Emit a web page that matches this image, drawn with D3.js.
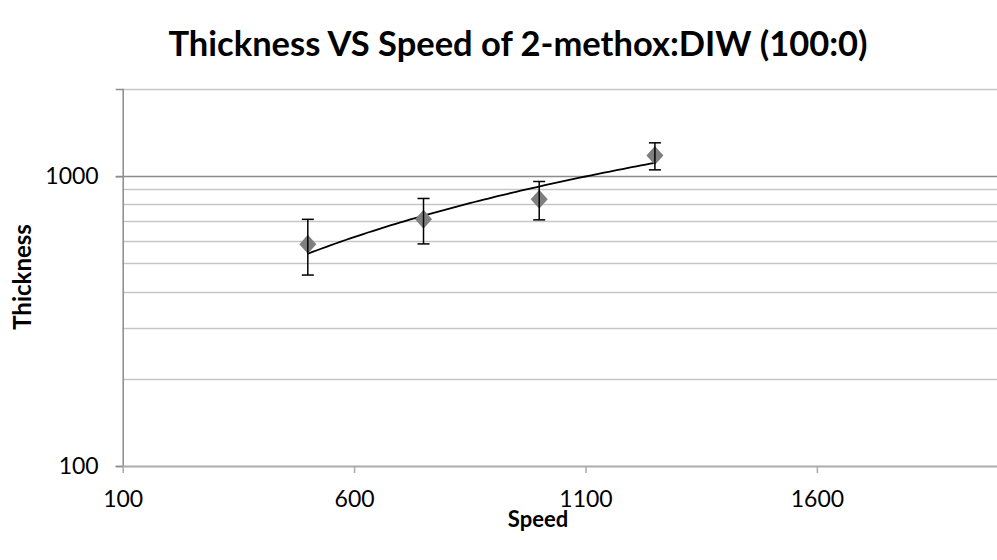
<!DOCTYPE html>
<html>
<head>
<meta charset="utf-8">
<script src="https://cdn.jsdelivr.net/npm/d3@7"></script>
<style>
  body { margin: 0; background: #fff; }
  svg { display: block; font-family: Lato, "Open Sans", sans-serif; }
</style>
</head>
<body>
<svg id="chart" width="997" height="560"></svg>
<script>
// data
const speeds = [500, 750, 1000, 1250];
const thickness = [583, 711, 833, 1178];
const errors = [127, 127, 126, 126];
const xTicks = [100, 600, 1100, 1600];
const yTicks = [100, 1000];
const yMinor = [200, 300, 400, 500, 600, 700, 800, 900];

const svg = d3.select("#chart");
const plot = { left: 122.7, top: 89, bottom: 466, right: 1002 };

const x = d3.scaleLinear().domain([100, 2000]).range([plot.left, plot.right]);
const y = d3.scaleLog().domain([100, 2000]).range([plot.bottom, plot.top]);

// title
svg.append("text")
  .attr("x", 518).attr("y", 56)
  .attr("text-anchor", "middle")
  .style("font-size", "34.5px").style("font-weight", "bold")
  .text("Thickness VS Speed of 2-methox:DIW (100:0)");

// gridlines
svg.append("g").selectAll("line")
  .data(yMinor.concat([2000]))
  .enter().append("line")
  .attr("x1", plot.left).attr("x2", plot.right)
  .attr("y1", d => Math.round(y(d)) + 0.5).attr("y2", d => Math.round(y(d)) + 0.5)
  .attr("stroke", "#c6c6c6").attr("stroke-width", 1.5);

svg.append("line")
  .attr("x1", plot.left - 7).attr("x2", plot.right)
  .attr("y1", Math.round(y(1000)) + 0.5).attr("y2", Math.round(y(1000)) + 0.5)
  .attr("stroke", "#8c8c8c").attr("stroke-width", 1.5);

// y axis
const yAxis = svg.append("g")
  .attr("transform", `translate(${plot.left},0)`)
  .call(d3.axisLeft(y).tickValues(yTicks).tickSize(7).tickPadding(17).tickFormat(d3.format("d")));
yAxis.select(".domain").attr("stroke", "#8c8c8c").attr("stroke-width", 1.5);
yAxis.selectAll(".tick line").attr("stroke", "#8c8c8c").attr("stroke-width", 1.5);
yAxis.selectAll("text").style("font-size", "23px").style("font-family", "Lato, sans-serif").attr("fill", "#000");

// x axis
const xAxis = svg.append("g")
  .attr("transform", `translate(0,${plot.bottom})`)
  .call(d3.axisBottom(x).tickValues(xTicks).tickSizeInner(7).tickSizeOuter(0).tickPadding(18).tickFormat(d3.format("d")));
xAxis.select(".domain").attr("stroke", "#ababab").attr("stroke-width", 2);
xAxis.selectAll(".tick line").attr("stroke", "#ababab").attr("stroke-width", 1.5);
xAxis.selectAll("text").style("font-size", "23px").style("font-family", "Lato, sans-serif").attr("fill", "#000");

// axis titles
svg.append("text")
  .attr("x", 538).attr("y", 527)
  .attr("text-anchor", "middle")
  .style("font-size", "22px").style("font-weight", "bold")
  .text("Speed");

svg.append("text")
  .attr("transform", "translate(31,277) rotate(-90)")
  .attr("text-anchor", "middle")
  .style("font-size", "24px").style("font-weight", "bold")
  .text("Thickness");

const pts = speeds.map((s, i) => ({ s: s, t: thickness[i], e: errors[i] }));

// linear trendline (least squares)
const mx = d3.mean(speeds), my = d3.mean(thickness);
const slope = d3.sum(pts, p => (p.s - mx) * (p.t - my)) / d3.sum(pts, p => (p.s - mx) ** 2);
const icpt = my - slope * mx;
const trend = d3.range(speeds[0], speeds[speeds.length - 1] + 1, 10);
svg.append("path")
  .datum(trend)
  .attr("fill", "none")
  .attr("stroke", "#000")
  .attr("stroke-width", 1.8)
  .attr("d", d3.line().x(d => x(d)).y(d => y(icpt + slope * d)));

// markers
svg.append("g").selectAll("path")
  .data(pts)
  .enter().append("path")
  .attr("transform", d => `translate(${x(d.s)},${y(d.t)})`)
  .attr("d", "M0,-9.5L8.5,0L0,9.5L-8.5,0Z")
  .attr("fill", "#7f7f7f");

// error bars
const eb = svg.append("g").attr("stroke", "#000").attr("stroke-width", 1.5);
pts.forEach(d => {
  const cx = x(d.s);
  eb.append("line").attr("x1", cx).attr("x2", cx).attr("y1", y(d.t + d.e)).attr("y2", y(d.t - d.e));
  eb.append("line").attr("x1", cx - 6).attr("x2", cx + 6).attr("y1", y(d.t + d.e)).attr("y2", y(d.t + d.e));
  eb.append("line").attr("x1", cx - 6).attr("x2", cx + 6).attr("y1", y(d.t - d.e)).attr("y2", y(d.t - d.e));
});
</script>
</body>
</html>
